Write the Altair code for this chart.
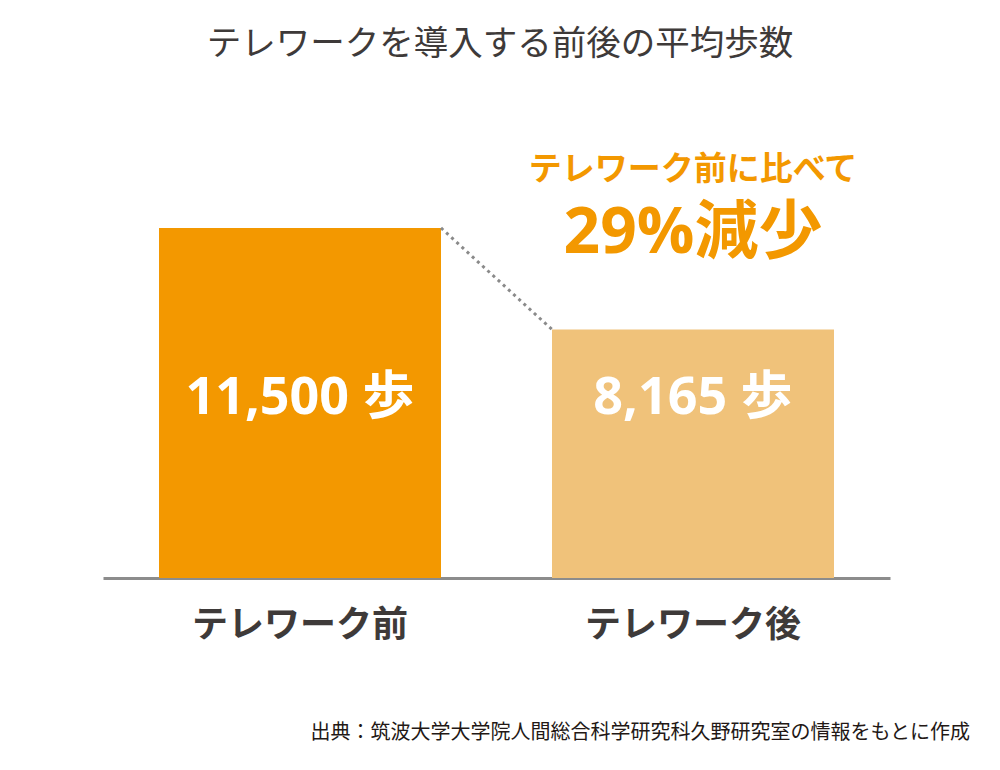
import altair as alt
import pandas as pd

categories = ["テレワーク前", "テレワーク後"]
steps = [11500, 8165]
bar_labels = ["11,500 歩", "8,165 歩"]
bar_colors = ["#f39800", "#f0c27a"]
annot_top = "テレワーク前に比べて"
annot_main = "29%減少"
title_text = "テレワークを導入する前後の平均歩数"
source_text = "出典：筑波大学大学院人間総合科学研究科久野研究室の情報をもとに作成"

bars_df = pd.DataFrame({"cat": categories, "steps": steps, "label": bar_labels, "color": bar_colors})
link_df = pd.DataFrame({"a": [categories[0]], "b": [categories[1]], "ya": [steps[0]], "yb": [steps[1]]})
annot_df = pd.DataFrame({"cat": [categories[1], categories[1]], "text": [annot_top, annot_main],
                         "yv": [13400, 11300], "size": [33, 64]})

JP = "Noto Sans CJK JP"
NUM = "Open Sans, Noto Sans CJK JP"

xscale = alt.Scale(domain=categories, paddingInner=0.2824, paddingOuter=0.1425)
yscale = alt.Scale(domain=[0, 16000], nice=False)

xenc = alt.X("cat:N", scale=xscale, sort=categories, title=None,
             axis=alt.Axis(domainColor="#8c8c8c", domainWidth=3, ticks=False, labelAngle=0,
                           labelFont=JP, labelFontWeight="bold", labelFontSize=36,
                           labelColor="#3e3a39", labelPadding=30, labelLimit=0, grid=False))

bars = alt.Chart(bars_df).mark_bar(size=282).encode(
    x=xenc,
    y=alt.Y("steps:Q", scale=yscale, axis=None),
    color=alt.Color("color:N", scale=None),
)

bar_text = alt.Chart(bars_df).mark_text(font=NUM, fontWeight="bold", fontSize=52, color="white",
                                        baseline="middle").encode(
    x=alt.X("cat:N", scale=xscale, sort=categories),
    y=alt.Y("y:Q", scale=yscale),
    text="label:N",
).transform_calculate(y="5900")

link = alt.Chart(link_df).mark_rule(color="#8a8a8a", strokeWidth=3, strokeDash=[3, 4]).encode(
    x=alt.X("a:N", scale=xscale, sort=categories, bandPosition=1),
    x2=alt.X2("b:N", bandPosition=0),
    y=alt.Y("ya:Q", scale=yscale),
    y2="yb:Q",
)

annot = alt.Chart(annot_df).mark_text(font=NUM, fontWeight="bold", color="#f39800",
                                      baseline="middle").encode(
    x=alt.X("cat:N", scale=xscale, sort=categories),
    y=alt.Y("yv:Q", scale=yscale),
    text="text:N",
    size=alt.Size("size:Q", scale=None, legend=None),
)

title = alt.Chart(pd.DataFrame({"t": [title_text]})).mark_text(
    font=JP, fontSize=34.5, color="#3e3a39", align="center",
    baseline="middle").encode(x=alt.value(397), y=alt.value(-46), text="t:N")

source = alt.Chart(pd.DataFrame({"t": [source_text]})).mark_text(
    font=JP, fontSize=20, color="#231815", align="right", baseline="middle").encode(
    x=alt.value(867), y=alt.value(642), text="t:N")

chart = alt.layer(bars, link, bar_text, annot, title, source).properties(
    width=787, height=487,
    padding={"left": 95, "top": 83, "right": 102, "bottom": 184},
    autosize=alt.AutoSizeParams(type="none"),
).configure_view(stroke=None)

chart.save("out.html", embed_options={"renderer": "svg", "actions": False})
